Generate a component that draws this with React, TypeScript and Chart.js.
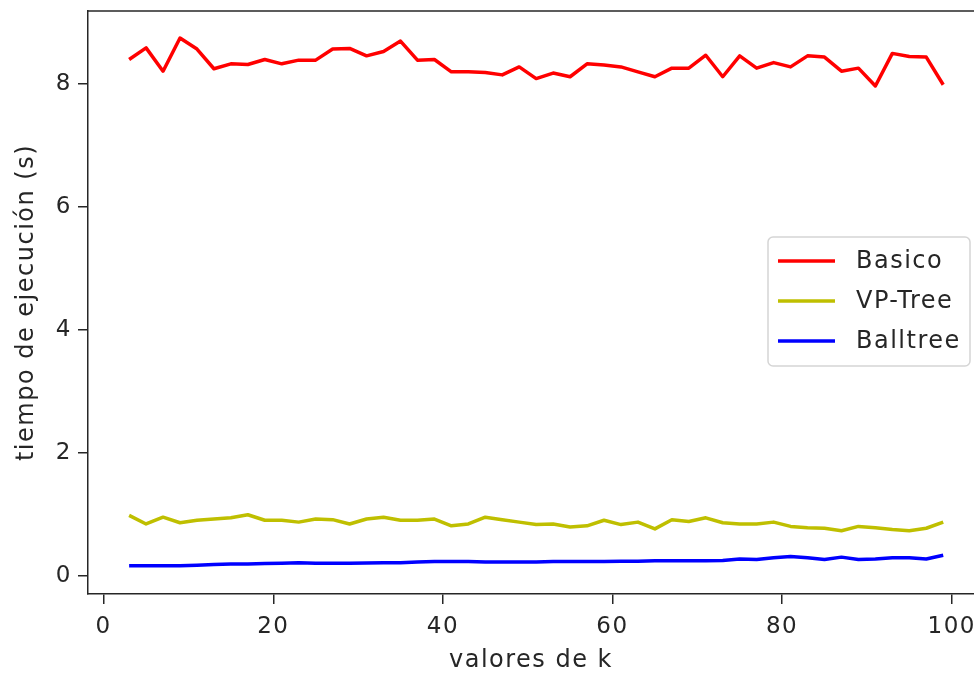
import React, { useEffect, useRef } from "react";
import { Chart, registerables } from "chart.js";

Chart.register(...registerables);

// Valores de k evaluados
const kValues = [
  3, 5, 7, 9, 11, 13, 15, 17, 19, 21, 23, 25, 27, 29, 31, 33, 35, 37, 39, 41, 43, 45, 47, 49, 51,
  53, 55, 57, 59, 61, 63, 65, 67, 69, 71, 73, 75, 77, 79, 81, 83, 85, 87, 89, 91, 93, 95, 97, 99,
];

// Tiempos de ejecución (s) por algoritmo
const basico = [
  8.40, 8.59, 8.21, 8.75, 8.57, 8.25, 8.33, 8.32, 8.40, 8.33, 8.39, 8.39, 8.57, 8.58, 8.46, 8.53,
  8.70, 8.39, 8.40, 8.20, 8.20, 8.19, 8.15, 8.28, 8.09, 8.18, 8.12, 8.33, 8.31, 8.28, 8.20, 8.12,
  8.26, 8.26, 8.47, 8.12, 8.46, 8.26, 8.35, 8.28, 8.46, 8.44, 8.21, 8.26, 7.97, 8.50, 8.45, 8.44,
  7.99,
];
const vpTree = [
  0.98, 0.84, 0.95, 0.86, 0.90, 0.92, 0.94, 0.99, 0.90, 0.90, 0.87, 0.92, 0.91, 0.84, 0.92, 0.95,
  0.90, 0.90, 0.92, 0.81, 0.84, 0.95, 0.91, 0.87, 0.83, 0.84, 0.79, 0.81, 0.90, 0.83, 0.87, 0.76,
  0.91, 0.88, 0.94, 0.86, 0.84, 0.84, 0.87, 0.80, 0.78, 0.77, 0.73, 0.80, 0.78, 0.75, 0.73, 0.77,
  0.87,
];
const balltree = [
  0.16, 0.16, 0.16, 0.16, 0.17, 0.18, 0.19, 0.19, 0.195, 0.20, 0.21, 0.20, 0.20, 0.20, 0.205, 0.21,
  0.21, 0.22, 0.23, 0.23, 0.23, 0.22, 0.22, 0.22, 0.22, 0.23, 0.23, 0.23, 0.23, 0.235, 0.235, 0.24,
  0.24, 0.24, 0.24, 0.245, 0.27, 0.26, 0.29, 0.31, 0.29, 0.26, 0.30, 0.26, 0.27, 0.29, 0.29, 0.27,
  0.33,
];

const seriesNames = ["Basico", "VP-Tree", "Balltree"];
const seriesColors = ["#ff0000", "#bfbf00", "#0000ff"];

const FONT = "'DejaVu Sans', sans-serif";
const TEXT = "#262626";
const SPINE = "#262626";
const SPACING = "1.5px";

// Espaciado de letras para todo el texto del lienzo
const textSpacing = {
  id: "textSpacing",
  beforeDraw(chart: any) {
    chart.ctx.letterSpacing = SPACING;
  },
};

// Marco superior del área de trazado
const frameTop = {
  id: "frameTop",
  afterDraw(chart: any) {
    const { ctx, chartArea } = chart;
    ctx.save();
    ctx.strokeStyle = SPINE;
    ctx.lineWidth = 1.5;
    ctx.beginPath();
    ctx.moveTo(chartArea.left, chartArea.top);
    ctx.lineTo(chartArea.right, chartArea.top);
    ctx.stroke();
    ctx.restore();
  },
};

// Leyenda con recuadro redondeado dentro del área
const boxLegend = {
  id: "boxLegend",
  afterDraw(chart: any) {
    const { ctx } = chart;
    const x = 768, y = 237, w = 202, h = 129, r = 5;
    ctx.save();
    ctx.fillStyle = "rgba(255,255,255,0.8)";
    ctx.strokeStyle = "#d5d5d5";
    ctx.lineWidth = 1.5;
    ctx.beginPath();
    ctx.roundRect(x, y, w, h, r);
    ctx.fill();
    ctx.stroke();
    ctx.font = `24px ${FONT}`;
    ctx.textBaseline = "middle";
    ctx.letterSpacing = SPACING;
    chart.data.datasets.forEach((ds: any, i: number) => {
      const cy = 261 + i * 40;
      ctx.strokeStyle = ds.borderColor;
      ctx.lineWidth = 3.5;
      ctx.beginPath();
      ctx.moveTo(778, cy);
      ctx.lineTo(835, cy);
      ctx.stroke();
      ctx.fillStyle = TEXT;
      ctx.fillText(ds.label, 856, cy + 1);
    });
    ctx.restore();
  },
};

export default function App() {
  const ref = useRef<HTMLCanvasElement | null>(null);

  useEffect(() => {
    if (!ref.current) return;
    const series = [basico, vpTree, balltree];
    const chart = new Chart(ref.current, {
      type: "line",
      data: {
        datasets: series.map((vals, i) => ({
          label: seriesNames[i],
          data: kValues.map((k, j) => ({ x: k, y: vals[j] })),
          borderColor: seriesColors[i],
          backgroundColor: seriesColors[i],
          borderWidth: 3.5,
          pointRadius: 0,
          tension: 0,
          borderJoinStyle: "round" as const,
        })),
      },
      options: {
        responsive: false,
        animation: false,
        layout: { padding: { top: 11, right: 0, bottom: 0, left: 0 } },
        plugins: { legend: { display: false }, tooltip: { enabled: false } },
        scales: {
          x: {
            type: "linear",
            min: -1.85,
            max: 102.63,
            afterFit: (s: any) => {
              s.height = 81;
              s.paddingLeft = 0;
              s.paddingRight = 0;
            },
            border: { display: true, color: SPINE, width: 1.5 },
            grid: { drawOnChartArea: false, drawTicks: true, tickLength: 10, color: SPINE, lineWidth: 1.5 },
            ticks: {
              stepSize: 20,
              includeBounds: false,
              color: TEXT,
              padding: 9,
              font: { family: FONT, size: 23 },
              maxRotation: 0,
            },
            title: {
              display: true,
              text: "valores de k",
              color: TEXT,
              font: { family: FONT, size: 24 },
              padding: { top: 0, bottom: 0 },
            },
          },
          y: {
            type: "linear",
            min: -0.3,
            max: 9.19,
            afterFit: (s: any) => {
              s.width = 88;
              s.paddingTop = 0;
              s.paddingBottom = 0;
            },
            border: { display: true, color: SPINE, width: 1.5 },
            grid: { drawOnChartArea: false, drawTicks: true, tickLength: 10, color: SPINE, lineWidth: 1.5 },
            ticks: {
              stepSize: 2,
              includeBounds: false,
              color: TEXT,
              padding: 6,
              font: { family: FONT, size: 23 },
            },
            title: {
              display: true,
              text: "tiempo de ejecución (s)",
              color: TEXT,
              font: { family: FONT, size: 24 },
              padding: { top: 12, bottom: 0 },
            },
          },
        },
      },
      plugins: [textSpacing, frameTop, boxLegend],
    });
    return () => chart.destroy();
  }, []);

  return (
    <div style={{ position: "absolute", left: 0, top: 0, width: 974, height: 675, background: "#fff" }}>
      <canvas ref={ref} width={974} height={675} />
    </div>
  );
}
